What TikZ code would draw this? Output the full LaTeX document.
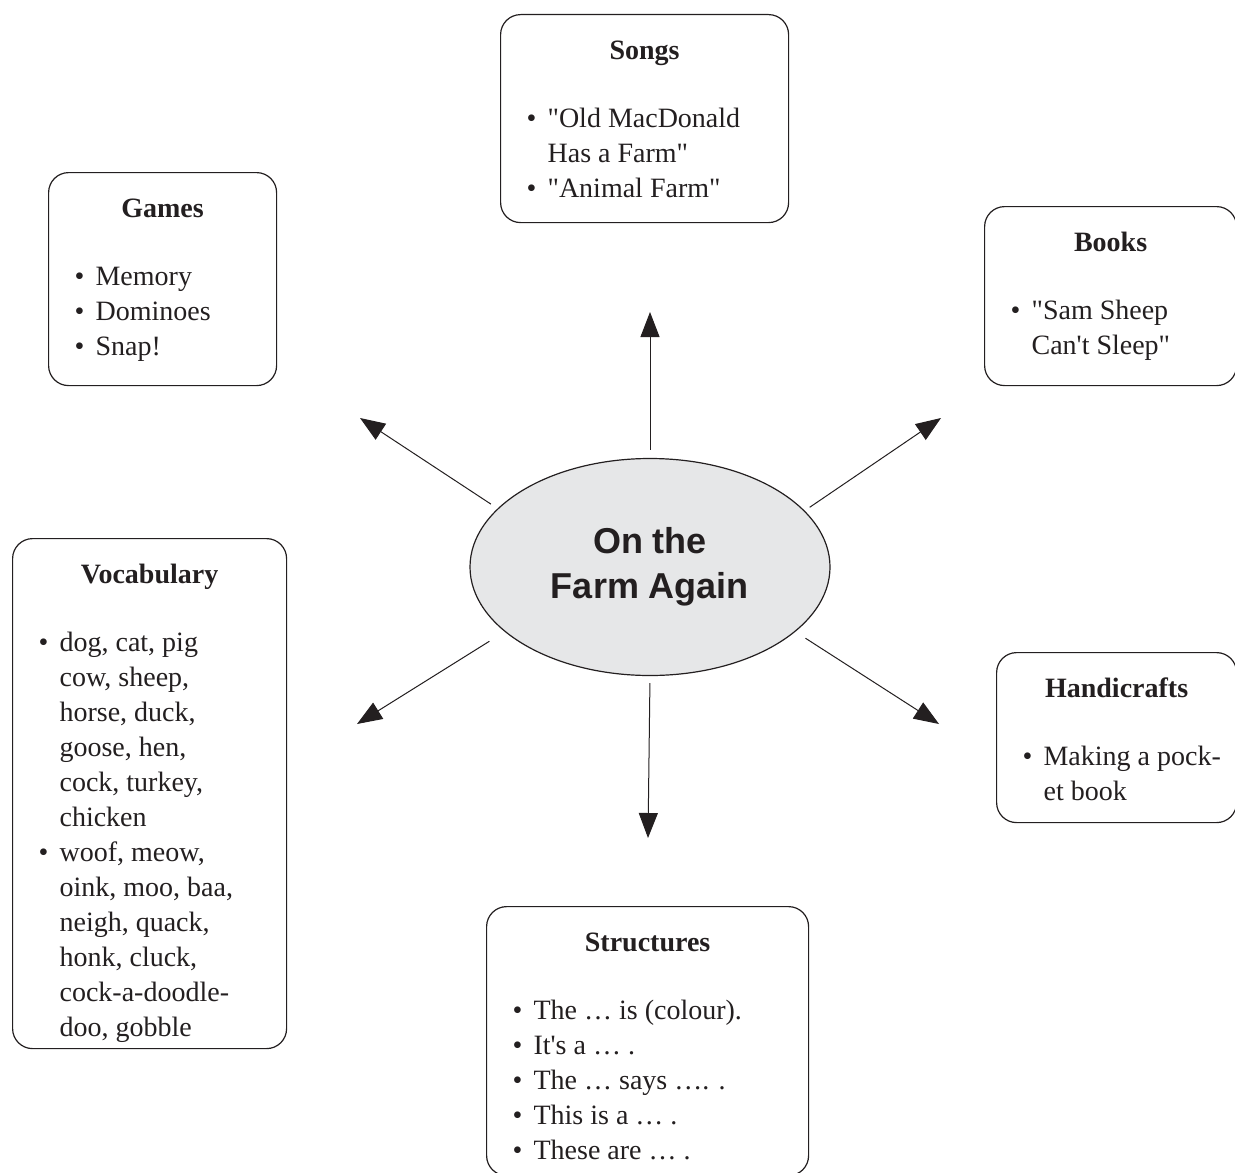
\documentclass[tikz,border=0pt]{standalone}
\usepackage{fontspec}
\setmainfont{Liberation Serif}[Ligatures=TeXOff]
\newfontfamily\hubfont{Liberation Sans}
\usepackage{tikz}
\usetikzlibrary{shapes.geometric,arrows.meta}
\definecolor{ink}{HTML}{231F20}
\definecolor{hubgray}{HTML}{E6E7E8}
\newcommand{\topictext}[4]{\parbox[t][#2][t]{#1}{\centering\strut\textbf{#3}\par\vspace{16.5pt}\raggedright#4}}
\newcommand{\bitem}[1]{\par\leftskip=10.5pt\noindent\hspace*{-10.5pt}\makebox[10.5pt][l]{\textbullet}#1}

\begin{document}
\begin{tikzpicture}[x=0.5pt, y=-0.5pt,
	topic/.style={draw=ink, line width=0.6pt, rounded corners=10pt, anchor=north west, inner xsep=13pt, inner ysep=10pt, text=ink, font=\fontsize{14}{17.5}\selectfont},
	hub/.style={ellipse, draw=ink, line width=0.6pt, fill=hubgray, minimum width=180pt, minimum height=108.5pt, inner sep=0, align=center, text=ink, font=\hubfont\bfseries\fontsize{18}{22.5}\selectfont},
	arr/.style={draw=ink, line width=0.5pt, -{Triangle[length=12.5pt,width=9.5pt]}}
]
\useasboundingbox (0,0) rectangle (1235,1172);

\node[hub] (farm) at (650,567) {On the\\Farm Again};

\node[topic] (songs) at (500,14) {\topictext{118pt}{84pt}{Songs}{\bitem{"Old MacDonald\\Has a Farm"}\bitem{"Animal Farm"}}};
\node[topic] (games) at (48,172) {\topictext{88pt}{86.5pt}{Games}{\bitem{Memory}\bitem{Dominoes}\bitem{Snap!}}};
\node[topic] (books) at (984,206) {\topictext{100pt}{69.5pt}{Books}{\bitem{"Sam Sheep\\Can't Sleep"}}};
\node[topic] (vocab) at (12,538) {\topictext{111pt}{235pt}{Vocabulary}{\bitem{dog, cat, pig\\cow, sheep,\\horse, duck,\\goose, hen,\\cock, turkey,\\chicken}\bitem{woof, meow,\\oink, moo, baa,\\neigh, quack,\\honk, cluck,\\cock-a-doodle-\\doo, gobble}}};
\node[topic] (handi) at (996,652) {\topictext{94pt}{65pt}{Handicrafts}{\bitem{\mbox{Making a pock-}\\et book}}};
\node[topic] (struct) at (486,906) {\topictext{135pt}{114.5pt}{Structures}{\bitem{The … is (colour).}\bitem{It's a … .}\bitem{The … says …. .}\bitem{This is a … .}\bitem{These are … .}}};

\coordinate (songs-tip) at (650,312);
\coordinate (games-tip) at (360,418);
\coordinate (books-tip) at (941,418);
\coordinate (vocab-tip) at (357,724);
\coordinate (handi-tip) at (939,724);
\coordinate (struct-tip) at (648,838);

\draw[arr, shorten <=4pt] (farm.north) -- (songs-tip);
\draw[arr, shorten <=4pt] (farm.159) -- (games-tip);
\draw[arr, shorten <=3pt] (farm.20) -- (books-tip);
\draw[arr, shorten <=9pt] (farm.204) -- (vocab-tip);
\draw[arr, shorten <=6pt] (farm.336) -- (handi-tip);
\draw[arr, shorten <=3.5pt] (farm.south) -- (struct-tip);
\end{tikzpicture}
\end{document}
